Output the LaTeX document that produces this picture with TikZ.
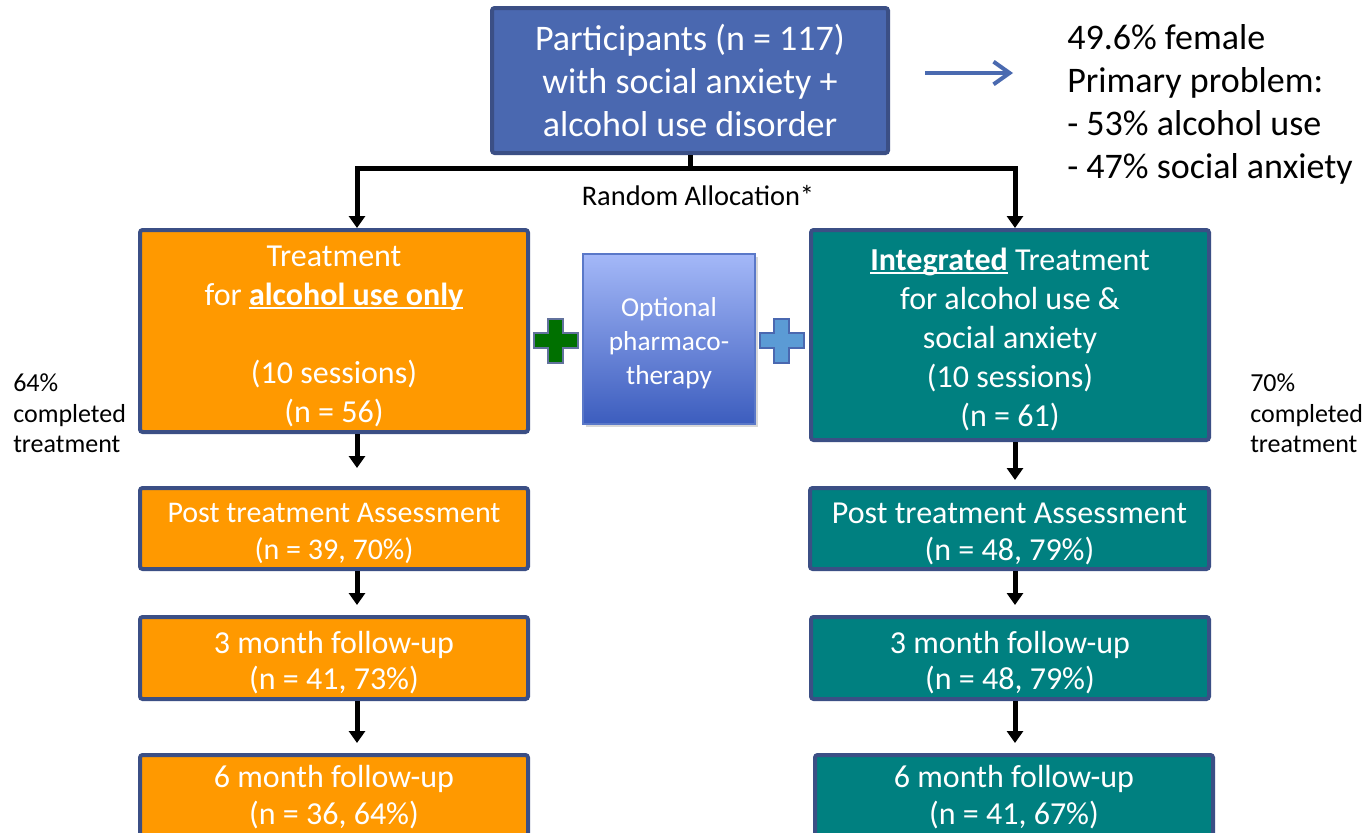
\documentclass[tikz,border=0pt]{standalone}
\usepackage{fontspec}
\setmainfont{Carlito}
\usetikzlibrary{arrows.meta,shadows,calc}

\definecolor{hdrblue}{HTML}{4A68B0}
\definecolor{edgeblue}{HTML}{3B4F85}
\definecolor{armorange}{HTML}{FF9900}
\definecolor{armteal}{HTML}{008080}
\definecolor{plusgreen}{HTML}{007000}
\definecolor{pluslight}{HTML}{5B9BD5}
\definecolor{phtop}{HTML}{A4B8F8}
\definecolor{phbot}{HTML}{3C5DBE}
\definecolor{phedge}{HTML}{5A78C8}
\definecolor{notearrow}{HTML}{4A6AB0}

% underline drawn at a fixed depth below the baseline
\newsavebox\markulbox
\newcommand\markul[1]{\sbox\markulbox{#1}\usebox\markulbox\llap{\rule[-0.13em]{\wd\markulbox}{0.07em}}}
% taller first line, so the text block sits a little lower in its box
\newcommand\topstrut{\rule{0pt}{0.97em}}

\tikzset{
  pbox/.style 2 args={minimum width=#1*0.75pt, minimum height=#2*0.75pt},
  card/.style={draw=edgeblue, line width=3pt, rounded corners=2pt, inner sep=0pt,
               align=center, text=white, font=\fontsize{24}{29.25}\selectfont},
  hdrcard/.style={card, fill=hdrblue, font=\fontsize{27}{32.25}\selectfont},
  orangecard/.style={card, fill=armorange},
  tealcard/.style={card, fill=armteal},
  smallcard/.style={font=\fontsize{24}{27.4}\selectfont},
  flow/.style={line width=3.75pt, line join=miter,
               -{Triangle[width=12pt,length=9pt]}},
  sidenote/.style={inner sep=0pt, align=left, font=\fontsize{19.5}{22.9}\selectfont},
  crosspic/.pic={
    \path[pic actions] (-22,-7.5) -- (-7.5,-7.5) -- (-7.5,-22) -- (7.5,-22) -- (7.5,-7.5)
      -- (22,-7.5) -- (22,7.5) -- (7.5,7.5) -- (7.5,22) -- (-7.5,22) -- (-7.5,7.5)
      -- (-22,7.5) -- cycle;
  }
}

\begin{document}
\begin{tikzpicture}[x=0.75pt,y=-0.75pt]
\useasboundingbox (0,0) rectangle (1367,832);
\fill[white] (0,0) rectangle (1367,832);
\clip (0,0) rectangle (1367,832);

% participants
\node[hdrcard, pbox={396}{145}] (part) at (690,80.5)
  {Participants (n = 117)\\with social anxiety +\\alcohol use disorder};

% sample description
\node[inner sep=0pt, anchor=west, align=left,
      font=\fontsize{27}{32.25}\selectfont] (info) at (1067,104.5)
  {49.6\% female\\Primary problem:\\- 53\% alcohol use\\- 47\% social anxiety};
\coordinate (infoarrow) at (925,73);
\draw[notearrow, line width=3pt, shorten >=40.5pt,
      -{Straight Barb[length=12pt,width=17pt,line width=3pt]}]
  (infoarrow) -- (infoarrow -| info.west);

% allocation split
\coordinate (colL) at (357,168);
\coordinate (colR) at (1015,168);
\node[inner sep=0pt, font=\fontsize{21.3}{25}\selectfont] (alloc) at (698,196) {Random Allocation*};

% treatment arms
\node[orangecard, pbox={388}{202}] (L1) at (334,331)
  {\topstrut Treatment\\for \markul{\textbf{alcohol use only}}\\ \\(10 sessions)\\(n = 56)};
\node[tealcard, pbox={398}{210}] (R1) at (1010,335)
  {\topstrut\markul{\textbf{Integrated}} Treatment\\for alcohol use \&\\social anxiety\\(10 sessions)\\(n = 61)};

\draw[flow] (part.south) |- (colL) -- (L1.north -| colL);
\draw[flow] (part.south) |- (colR) -- (R1.north -| colR);

% optional medication
\node[draw=phedge, line width=1pt, top color=phtop, bottom color=phbot,
      drop shadow={opacity=0.3, shadow xshift=2pt, shadow yshift=-2pt},
      pbox={172}{170}, inner sep=0pt, align=center, text=white,
      font=\fontsize{20.5}{25.5}\selectfont] (ph) at (669,339)
  {\topstrut Optional\\pharmaco-\\therapy};
\pic[fill=plusgreen, draw=edgeblue!80, line width=1.5pt] at (555.5,340.5) {crosspic};
\pic[fill=pluslight, draw=hdrblue, line width=1.5pt] at (781.5,340.5) {crosspic};

% completion notes
\node[sidenote, anchor=west] (doneL) at (13,413.5) {64\%\\completed\\treatment};
\node[sidenote, anchor=west] (doneR) at (1250,413.5) {70\%\\completed\\treatment};

% assessments, left arm
\node[orangecard, pbox={388}{81}, font=\fontsize{22.5}{27.5}\selectfont] (L2) at (334,528.5)
  {\topstrut Post treatment Assessment\\(n = 39, 70\%)};
\node[orangecard, smallcard, pbox={388}{82}] (L3) at (334,658)
  {\topstrut 3 month follow-up\\(n = 41, 73\%)};
\node[orangecard, smallcard, pbox={388}{84}, anchor=north] (L4) at (334,753)
  {6 month follow-up\\(n = 36, 64\%)};

% assessments, right arm
\node[tealcard, smallcard, pbox={399}{81}] (R2) at (1009.5,528.5)
  {\topstrut Post treatment Assessment\\(n = 48, 79\%)};
\node[tealcard, smallcard, pbox={398}{82}] (R3) at (1010,658)
  {\topstrut 3 month follow-up\\(n = 48, 79\%)};
\node[tealcard, smallcard, pbox={398}{84}, anchor=north] (R4) at (1014,753)
  {6 month follow-up\\(n = 41, 67\%)};

% follow-up arrows
\draw[flow, shorten >=13.5pt] (L1.south -| colL) -- (L2.north -| colL);
\draw[flow, shorten >=7.5pt] (L2.south -| colL) -- (L3.north -| colL);
\draw[flow, shorten >=7.5pt] (L3.south -| colL) -- (L4.north -| colL);
\draw[flow, shorten >=4.5pt] (R1.south -| colR) -- (R2.north -| colR);
\draw[flow, shorten >=7.5pt] (R2.south -| colR) -- (R3.north -| colR);
\draw[flow, shorten >=7.5pt] (R3.south -| colR) -- (R4.north -| colR);
\end{tikzpicture}
\end{document}
